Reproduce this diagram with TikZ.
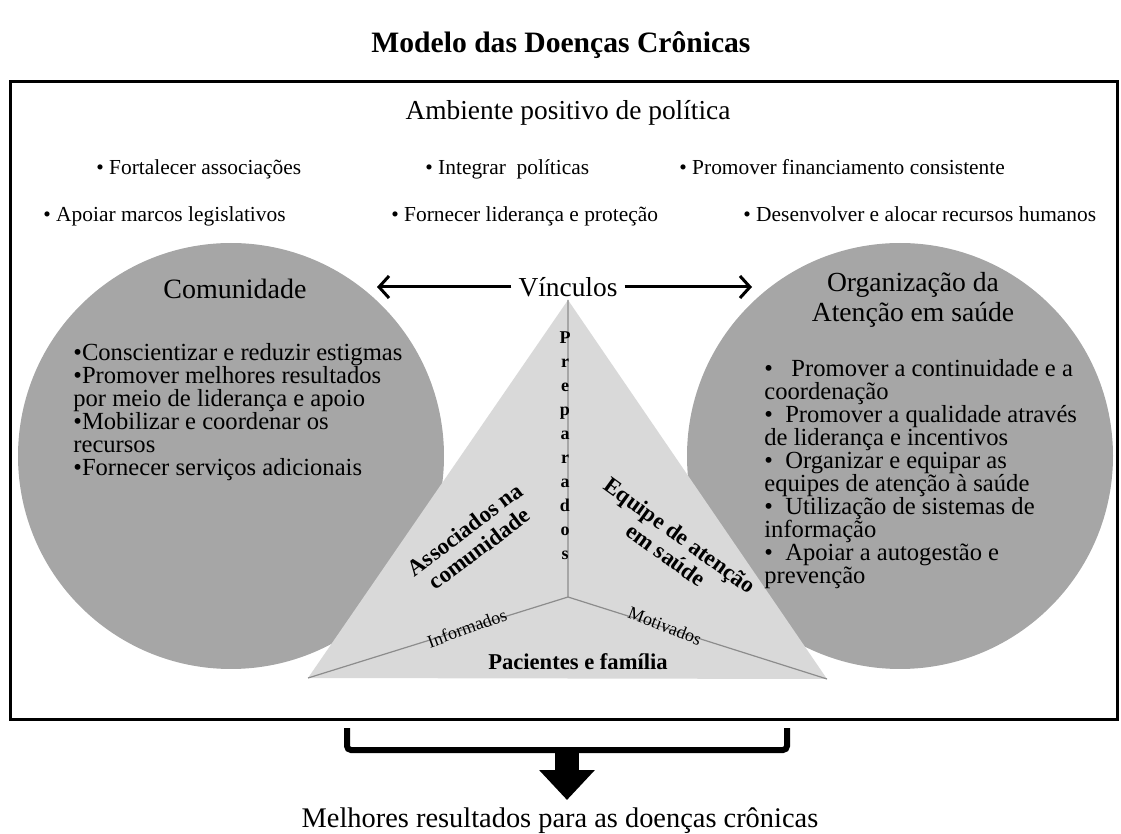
\documentclass[tikz,border=0pt]{standalone}
\usepackage{fontspec}
\setmainfont{Liberation Serif}
\usetikzlibrary{arrows.meta,positioning}

\definecolor{circgray}{RGB}{166,166,166}
\definecolor{trigray}{RGB}{217,217,217}
\definecolor{linegray}{RGB}{140,140,140}

\begin{document}
\begin{tikzpicture}[
  x=0.5pt, y=-0.5pt,
  >=Latex,
  circ/.style={circle, fill=circgray, inner sep=0pt, minimum size=213pt},
  head/.style={font=\fontsize{13.7}{14}\selectfont, align=center},
  polit/.style={anchor=base west, inner sep=0pt, font=\fontsize{10.7}{12}\selectfont},
  bullets/.style={anchor=north west, align=left, inner sep=0pt,
    font=\fontsize{12.3}{11.5}\selectfont},
  tlabel/.style={font=\bfseries\fontsize{11.5}{12}\selectfont, align=center},
  side/.style={font=\fontsize{9}{10}\selectfont, inner sep=1pt},
  link/.style={line width=1.5pt, -{Straight Barb[length=5pt,width=11pt]}},
  brk/.style={line width=3pt, rounded corners=2pt}
]
\useasboundingbox (0,0) rectangle (1121,834);

% Title
\node[font=\bfseries\fontsize{14.8}{16}\selectfont] (title) at (561,45) {Modelo das Doenças Crônicas};

% Frame
\draw[line width=1.5pt] (10,82) rectangle (1117,719);
\node[head] (amb) at (568,113) {Ambiente positivo de política};

% Policy items
\node[polit] (p1) at (96,175) {• Fortalecer associações};
\node[polit] (p2) at (425,175) {• Integrar\ \ políticas};
\node[polit] (p3) at (679,175) {• Promover financiamento consistente};
\node[polit] (p4) at (43,222) {• Apoiar marcos legislativos};
\node[polit] (p5) at (391,222) {• Fornecer liderança e proteção};
\node[polit] (p6) at (743,222) {• Desenvolver e alocar recursos humanos};

% Circles
\node[circ] (comu) at (231,456) {};
\node[circ] (org) at (900,456) {};

% Triangle
\coordinate (apex) at (568,300);
\coordinate (tl) at (308,678);
\coordinate (tr) at (827,679);
\coordinate (mid) at (568,597);
\fill[trigray] (apex) -- (tl) -- (tr) -- cycle;
\draw[linegray, line width=0.6pt] (mid) -- (apex) (mid) -- (tl) (mid) -- (tr);

% Community
\node[head, font=\fontsize{14}{15}\selectfont] (comut) at (235,289) {Comunidade};
\node[bullets] (comub) at (73,343) {%
  •Conscientizar e reduzir estigmas\\
  •Promover melhores resultados\\
  por meio de liderança e apoio\\
  •Mobilizar e coordenar os\\
  recursos\\
  •Fornecer serviços adicionais};

% Health care organisation
\node[head, font=\fontsize{13.8}{15}\selectfont] (orgt) at (913,300) {Organização da\\Atenção em saúde};
\node[bullets] (orgb) at (764,359) {%
  •\ \ \ Promover a continuidade e a\\
  coordenação\\
  •\ \ Promover a qualidade através\\
  de liderança e incentivos\\
  •\ \ Organizar e equipar as\\
  equipes de atenção à saúde\\
  •\ \ Utilização de sistemas de\\
  informação\\
  •\ \ Apoiar a autogestão e\\
  prevenção};

% Links
\node[head] (vinc) at (568,287) {Vínculos};
\coordinate (lend) at (377,287);
\coordinate (rend) at (752,287);
\draw[link] (vinc.west) -- (lend);
\draw[link] (vinc.east) -- (rend);

% Triangle labels
\node[font=\bfseries\fontsize{9}{12}\selectfont, align=center, inner sep=0pt] (prep) at (565,446)
  {P\\r\\e\\p\\a\\r\\a\\d\\o\\s};
\node[tlabel, rotate=37] (assoc) at (472,539) {Associados na\\comunidade};
\node[tlabel, rotate=-36] (equip) at (673,545) {Equipe de atenção\\em saúde};
\node[tlabel, font=\bfseries\fontsize{11.3}{12}\selectfont] (pac) at (578,662) {Pacientes e família};
\node[side, rotate=20] (inf) at (467,628) {Informados};
\node[side, rotate=-21] (mot) at (665,626) {Motivados};

% Outcome
\coordinate (brL) at (347,728);
\coordinate (brR) at (787,728);
\coordinate (bk) at (567,750);
\coordinate (tip) at (567,800);
\draw[brk] (brL) |- (bk) -| (brR);
\draw[line width=12pt, -{Triangle[length=15pt,width=27pt]}] (bk) -- (tip);
\node[font=\fontsize{14.2}{16}\selectfont] (res) at (560,821) {Melhores resultados para as doenças crônicas};

\end{tikzpicture}
\end{document}
